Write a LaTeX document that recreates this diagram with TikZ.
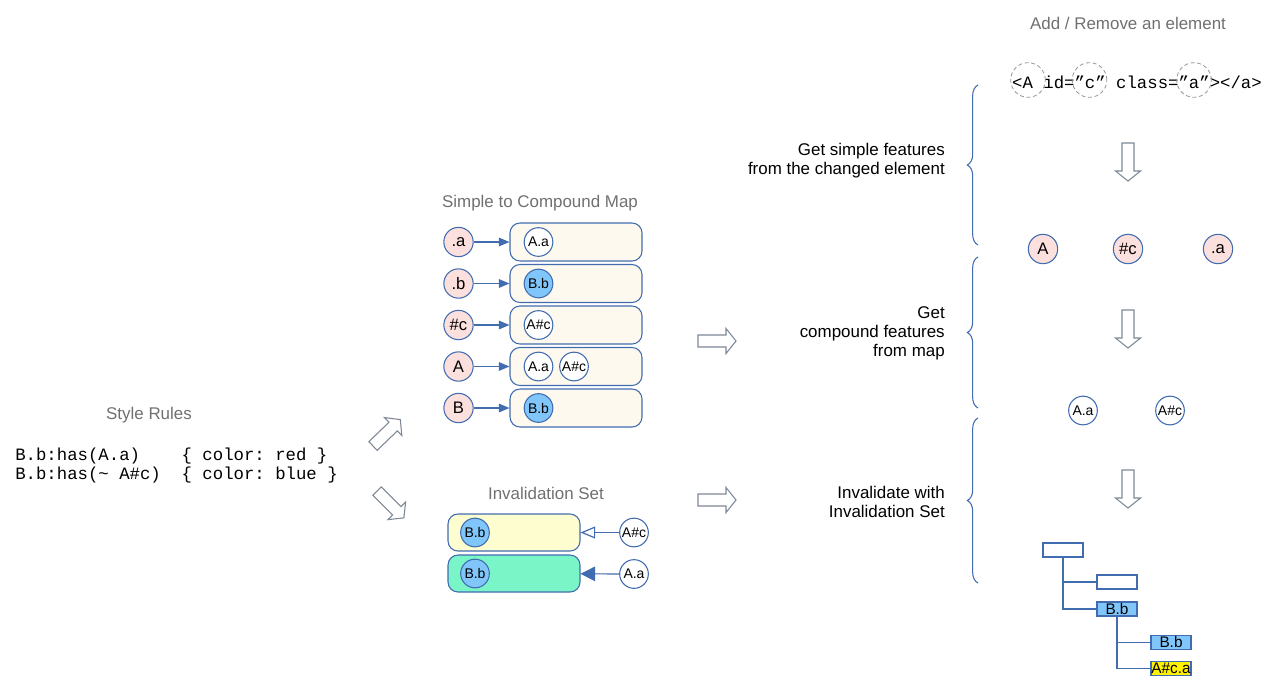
\documentclass[tikz,border=0pt]{standalone}
\usepackage{fontspec}
\setmainfont{Liberation Sans}
\newfontfamily\codefont{Liberation Mono}
\usetikzlibrary{arrows.meta,decorations.pathreplacing}

\definecolor{edgeblue}{RGB}{66,108,176}
\definecolor{pinkfill}{RGB}{252,224,222}
\definecolor{creamfill}{RGB}{253,249,238}
\definecolor{bbfill}{RGB}{128,198,250}
\definecolor{yellowfill}{RGB}{253,253,208}
\definecolor{greenfill}{RGB}{122,245,200}
\definecolor{titlegray}{RGB}{112,112,112}
\definecolor{ringgray}{RGB}{150,150,150}
\definecolor{arrowgray}{RGB}{125,136,150}

\begin{document}
\frenchspacing
\begin{tikzpicture}[x=0.75pt, y=-0.75pt,
  feat/.style={circle, draw=edgeblue, line width=0.8pt, fill=pinkfill, minimum size=22pt, inner sep=0pt, font=\fontsize{12.5}{14}\selectfont},
  comp/.style={circle, draw=edgeblue, line width=0.8pt, fill=white, minimum size=21.5pt, inner sep=0pt, font=\fontsize{10.5}{12}\selectfont},
  compb/.style={comp, fill=bbfill},
  mapbox/.style={rectangle, rounded corners=7.5pt, draw=edgeblue, line width=0.8pt, fill=creamfill, minimum width=99pt, minimum height=28.5pt},
  invbox/.style={mapbox, minimum height=27.75pt},
  treebox/.style={rectangle, draw=edgeblue, line width=0.8pt, fill=white, minimum width=30pt, minimum height=10.5pt, inner sep=0pt, font=\fontsize{11.5}{12}\selectfont},
  maparrow/.style={draw=edgeblue, line width=0.9pt, -{Triangle[length=8pt, width=6.5pt]}},
  invfill/.style={draw=edgeblue, line width=0.9pt, -{Triangle[length=11pt, width=11pt]}},
  invopen/.style={draw=edgeblue, line width=0.9pt, -{Triangle[open, length=11pt, width=9pt, fill=white]}},
  treeline/.style={draw=edgeblue, line width=0.8pt},
  label/.style={font=\fontsize{12.7}{14.25}\selectfont},
  title/.style={label, text=titlegray},
  code/.style={font=\codefont\fontsize{13}{14.25}\selectfont, inner sep=0pt},
  htmlring/.style={circle, draw=ringgray, densely dashed, line width=0.6pt, minimum size=26pt, inner sep=0pt},
  arrowline/.style={draw=arrowgray, fill=white, line width=0.8pt, line join=miter},
  bracepath/.style={draw=edgeblue, line width=0.8pt, decorate, decoration={brace, amplitude=8pt}},
  blockarrow/.pic={\draw[arrowline] (0,-6) -- (28,-6) -- (28,-12.5) -- (38,0) -- (28,12.5) -- (28,6) -- (0,6) -- cycle;}]
\useasboundingbox (0,0) rectangle (1273,686);

% style rules
\node[title] at (149,415) (rulestitle) {Style Rules};
\node[code, anchor=west, align=left] at (15,465.5) (rules) {B.b:has(A.a)\ \ \ \ \{ color: red \}\\B.b:has(\textasciitilde{} A\#c)\ \ \{ color: blue \}};

\pic[rotate=44] at (373,446) {blockarrow};
\pic[rotate=-45] at (377,491) {blockarrow};

% simple to compound map
\node[title] at (540,203) (maptitle) {Simple to Compound Map};

\node at (576,242) [mapbox] (ma) {};
\node at (576,283.5) [mapbox] (mb) {};
\node at (576,325) [mapbox] (mc) {};
\node at (576,366.5) [mapbox] (mA) {};
\node at (576,408) [mapbox] (mB) {};

\node at (458.5,242) [feat] (sa) {.a};
\node at (458.5,283.5) [feat] (sb) {.b};
\node at (458.5,325) [feat] (sc) {\#c};
\node at (458.5,366.5) [feat] (sA) {A};
\node at (458.5,408) [feat] (sB) {B};

\node at (538.5,242) [comp] (ma1) {A.a};
\node at (538.5,283.5) [compb] (mb1) {B.b};
\node at (538.5,325) [comp] (mc1) {A\#c};
\node at (538.5,366.5) [comp] (mA1) {A.a};
\node at (574,366.5) [comp] (mA2) {A\#c};
\node at (538.5,408) [compb] (mB1) {B.b};

\draw[maparrow] (sa) -- (ma);
\draw[maparrow] (sb) -- (mb);
\draw[maparrow] (sc) -- (mc);
\draw[maparrow] (sA) -- (mA);
\draw[maparrow] (sB) -- (mB);

% invalidation set
\node[title] at (546,493) (invtitle) {Invalidation Set};

\node at (514,532.5) [invbox, fill=yellowfill] (ia) {};
\node at (514,573.5) [invbox, fill=greenfill] (ib) {};
\node at (475,532.5) [compb] (ia1) {B.b};
\node at (475,573.5) [compb] (ib1) {B.b};
\node at (634,532.5) [comp] (ic) {A\#c};
\node at (634,574) [comp] (id) {A.a};

\draw[invopen] (ic) -- (ia);
\draw[invfill] (id) -- (ib);

\pic at (698,341) {blockarrow};
\pic at (698,500) {blockarrow};

% braces and steps
\node[label, inner sep=0pt, anchor=east, align=right] at (945,160.5) (getsimple) {Get simple features\\from the changed element};
\node[label, inner sep=0pt, anchor=east, align=right] at (945,333) (getcomp) {Get\\compound features\\from map};
\node[label, inner sep=0pt, anchor=east, align=right] at (945,501.5) (invwith) {Invalidate with\\Invalidation Set};

\draw[bracepath] (978,245) -- (978,85);
\draw[bracepath] (978,408) -- (978,257);
\draw[bracepath] (978,583) -- (978,418);

% element and features
\node[title] at (1128,23) (addtitle) {Add / Remove an element};
\node[code] at (1137,82) (html) {<A id=”c” class=”a”></a>};
\node at (1028,80) [htmlring] (ringA) {};
\node at (1089.5,80) [htmlring] (ringc) {};
\node at (1194,80) [htmlring] (ringa) {};

\pic[rotate=-90] at (1128,143) {blockarrow};

\node at (1043,249) [feat] (fA) {A};
\node at (1128,249) [feat] (fc) {\#c};
\node at (1218,249) [feat] (fa) {.a};

\pic[rotate=-90] at (1128,310) {blockarrow};

\node at (1083,410.5) [comp] (gAa) {A.a};
\node at (1170,410.5) [comp] (gAc) {A\#c};

\pic[rotate=-90] at (1128,470) {blockarrow};

% tree
\node at (1063,550) [treebox] (root) {};
\node at (1117,582) [treebox] (tc) {};
\node at (1117,609) [treebox, fill=bbfill] (tb) {B.b};
\node at (1171,642.5) [treebox, fill=bbfill] (tbb) {B.b};
\node at (1171,668.5) [treebox, fill=yellow] (tac) {A\#c.a};

\draw[treeline] (root.south) |- (tc.west);
\draw[treeline] (root.south) |- (tb.west);
\draw[treeline] (tb.south) |- (tbb.west);
\draw[treeline] (tb.south) |- (tac.west);
\end{tikzpicture}
\end{document}
